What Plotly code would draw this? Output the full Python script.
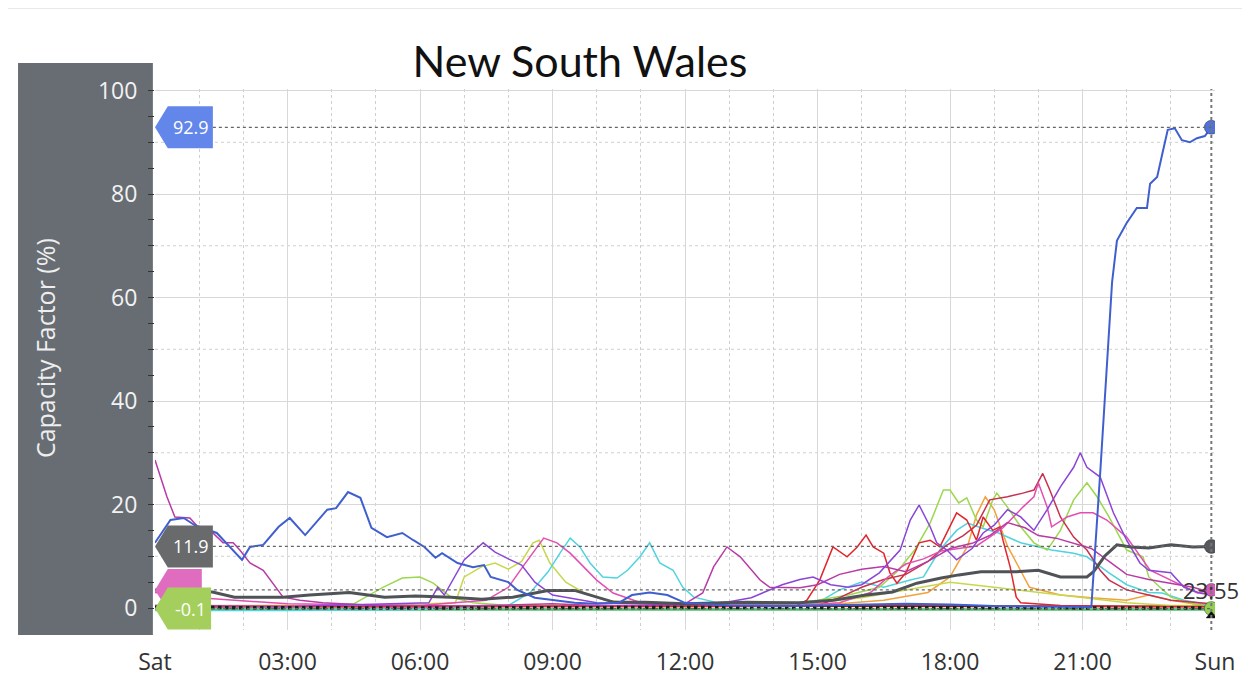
import plotly.graph_objects as go

# === Axis labels ===
tick_hours = [0, 3, 6, 9, 12, 15, 18, 21, 24]
tick_text = ["Sat", "03:00", "06:00", "09:00", "12:00", "15:00", "18:00", "21:00", "Sun"]
cursor_label = "23:55"

# === Series: hours since Sat 00:00 / capacity factor (%) ===
blue_t = [0, 0.35, 0.65, 0.9, 1.4, 1.7, 1.97, 2.15, 2.45, 2.8, 3.05, 3.4, 3.9, 4.1, 4.37, 4.65, 4.9,
          5.25, 5.6, 5.85, 6.1, 6.35, 6.5, 6.85, 7.2, 7.45, 7.6, 8.0, 8.2, 8.6, 9.0, 9.5, 10.0, 10.5,
          10.8, 11.2, 11.6, 12.0, 13.0, 14.0, 15.0, 16.0, 17.0, 18.0, 19.0, 20.0, 21.0, 21.2, 21.4,
          21.67, 21.78, 22.0, 22.23, 22.46, 22.53, 22.69, 22.8, 22.93, 23.09, 23.25, 23.43, 23.59,
          23.77, 23.917]
blue_v = [12.6, 17.0, 17.4, 16.0, 14.5, 11.8, 9.3, 11.8, 12.2, 15.7, 17.4, 14.1, 19.0, 19.3, 22.4,
          21.3, 15.5, 13.7, 14.5, 13.1, 11.8, 9.7, 10.6, 8.7, 7.9, 8.3, 6.0, 5.0, 3.5, 2.0, 1.5, 1.0,
          0.8, 1.0, 2.5, 3.0, 2.5, 1.0, 0.5, 0.4, 0.5, 0.6, 0.8, 0.7, 0.4, 0.3, 0.3, 0.2, 26.0, 63.0,
          71.0, 74.4, 77.3, 77.3, 82.0, 83.3, 87.5, 92.4, 92.7, 90.4, 90.0, 90.8, 91.2, 92.9]

grey_t = [0, 0.5, 1.3, 1.8, 2.9, 3.5, 4.4, 5.2, 5.9, 6.7, 7.4, 8.1, 8.9, 9.5, 10.0, 10.4, 11.1, 12.0,
          13.4, 14.6, 15.35, 16.1, 16.7, 17.25, 17.8, 18.2, 18.7, 19.5, 20.0, 20.5, 21.1, 21.25, 21.5,
          21.78, 22.1, 22.5, 23.0, 23.5, 23.917]
grey_v = [3.5, 3.3, 3.1, 2.1, 2.1, 2.5, 3.0, 2.1, 2.3, 2.1, 1.7, 2.1, 3.4, 3.4, 2.1, 1.1, 1.1, 0.8,
          1.1, 1.0, 1.5, 2.5, 3.1, 4.8, 5.8, 6.4, 7.0, 7.0, 7.3, 6.0, 6.0, 7.0, 10.0, 12.2, 11.8, 11.6,
          12.2, 11.8, 11.9]

magenta_t = [0, 0.27, 0.45, 0.79, 0.97, 1.31, 1.54, 1.77, 1.92, 2.15, 2.45, 2.67, 2.9, 3.28, 3.8, 5,
             7, 8, 9, 10, 11, 12, 12.4, 12.65, 12.95, 13.25, 13.47, 13.7, 13.92, 14.2, 14.6, 15.0,
             15.5, 16.0, 16.5, 17.0, 17.5, 18.0, 18.5, 18.9, 19.3, 19.7, 20.0, 20.4, 20.8, 21.2, 21.6,
             22.0, 22.5, 23.0, 23.5, 23.917]
magenta_v = [28.6, 21.5, 17.6, 17.4, 15.7, 14.5, 12.6, 12.6, 11.2, 8.7, 7.3, 4.8, 2.1, 1.5, 1.0, 0.5,
             0.4, 0.6, 0.8, 0.5, 0.5, 0.8, 2.9, 8.0, 11.8, 9.9, 7.7, 5.4, 4.0, 4.0, 3.9, 4.5, 6.5,
             7.5, 8.0, 7.0, 9.0, 11.5, 12.5, 14.0, 16.5, 15.5, 14.0, 13.5, 12.5, 11.5, 9.0, 6.5, 5.5,
             4.8, 4.0, 3.0]

purple_t = [0, 3, 6.2, 6.4, 6.55, 7.0, 7.43, 7.7, 8.0, 8.3, 8.6, 9.0, 10, 11, 12, 13, 13.5, 14.2,
            14.6, 14.9, 15.3, 15.7, 16.0, 16.4, 16.87, 17.1, 17.3, 17.55, 17.7, 17.93, 18.15, 18.5,
            18.75, 19.0, 19.3, 19.6, 19.9, 20.2, 20.5, 20.8, 20.95, 21.1, 21.4, 21.7, 22.0, 22.3,
            22.5, 23.0, 23.3, 23.65, 23.917]
purple_v = [0.5, 0.3, 1.0, 4.0, 2.5, 9.3, 12.6, 10.8, 9.5, 8.3, 5.0, 2.5, 1.0, 0.8, 0.6, 1.2, 2.0,
            4.5, 5.5, 6.0, 4.5, 4.0, 4.5, 6.8, 11.2, 17.0, 19.9, 15.7, 12.6, 11.2, 9.3, 11.5, 14.5,
            16.0, 19.0, 17.6, 15.0, 19.0, 23.4, 27.2, 30.0, 27.2, 25.3, 18.4, 13.1, 8.7, 7.3, 6.8,
            4.0, 2.9, 2.5]

pink_t = [0, 1, 3, 6, 7.5, 8.0, 8.33, 8.65, 8.8, 9.1, 9.4, 9.7, 10.0, 10.37, 11, 13, 14.5, 15.5,
          16.2, 16.6, 17.0, 17.4, 17.8, 18.2, 18.6, 18.9, 19.2, 19.65, 19.9, 20.0, 20.2, 20.3, 20.65,
          20.95, 21.24, 21.55, 22.0, 22.53, 23.0, 23.6, 23.917]
pink_v = [3.0, 2.0, 0.8, 0.5, 1.5, 4.0, 8.0, 11.8, 13.5, 12.6, 10.6, 8.0, 5.4, 2.9, 1.0, 0.6, 0.5,
          1.0, 3.0, 6.0, 8.5, 9.5, 11.0, 11.5, 12.0, 13.7, 15.5, 19.5, 21.5, 24.2, 19.5, 15.7, 17.6,
          18.4, 18.4, 17.0, 13.7, 7.3, 5.4, 2.9, 3.5]

lime_t = [0, 3, 4.5, 5.16, 5.6, 6.0, 6.3, 6.7, 7.2, 8, 10, 12, 14, 15, 15.7, 16.4, 16.8, 17.2, 17.55,
          17.85, 18.0, 18.2, 18.38, 18.6, 18.75, 18.97, 19.06, 19.3, 19.6, 19.9, 20.2, 20.5, 20.8,
          21.1, 21.33, 21.6, 22.0, 22.37, 22.5, 23.0, 23.5, 23.917]
lime_v = [0.3, 0.2, 0.8, 4.0, 5.8, 6.0, 4.8, 2.1, 1.0, 0.5, 0.3, 0.3, 0.5, 1.5, 2.5, 4.0, 7.0, 11.2,
          16.4, 22.8, 22.8, 20.3, 21.3, 17.0, 15.7, 20.9, 22.2, 19.5, 15.7, 12.6, 11.2, 15.0, 20.9,
          24.2, 21.5, 17.6, 11.2, 9.9, 6.0, 2.1, 0.8, -0.1]

ygreen_t = [0, 4, 6.8, 7.0, 7.4, 7.7, 8.0, 8.3, 8.56, 8.7, 8.94, 9.3, 9.7, 10.2, 11, 13, 15, 16, 17,
            18, 19, 20, 21, 22, 23, 23.917]
ygreen_v = [0.2, 0.2, 1.0, 6.0, 8.0, 8.7, 7.5, 9.0, 12.6, 13.1, 8.7, 5.0, 3.0, 1.5, 0.8, 0.5, 1.0,
            2.0, 3.5, 5.0, 4.0, 3.0, 2.0, 1.0, 0.5, 0.5]

cyan_t = [0, 3, 6, 8.0, 8.5, 8.9, 9.17, 9.4, 9.62, 9.85, 10.14, 10.46, 10.7, 10.98, 11.2, 11.43,
          11.73, 11.95, 12.2, 13, 15, 15.5, 16.0, 16.5, 17.1, 17.4, 17.77, 18.15, 18.4, 18.7, 19.1,
          19.6, 20.3, 20.8, 21.1, 21.6, 22.0, 22.5, 22.8, 23.3, 23.917]
cyan_v = [-0.5, -0.5, -0.3, 0.5, 3.0, 7.0, 10.6, 13.5, 11.8, 8.7, 6.0, 5.8, 7.3, 9.9, 12.6, 8.7, 7.3,
          4.0, 2.1, 0.5, 1.0, 3.5, 5.0, 4.0, 5.4, 6.0, 11.2, 15.0, 16.4, 15.5, 14.5, 12.6, 11.2,
          10.6, 9.9, 6.8, 4.5, 3.0, 2.9, 1.5, 0.5]

red_t = [0, 14.5, 14.76, 15.05, 15.35, 15.67, 15.9, 16.1, 16.26, 16.5, 16.64, 16.8, 17.0, 17.3,
         17.55, 17.77, 18.15, 18.38, 18.6, 18.75, 18.97, 19.13, 19.2, 19.36, 19.5, 19.6, 20.5, 22,
         23.917]
red_v = [0.3, 0.3, 1.5, 5.4, 11.8, 9.9, 11.8, 14.1, 11.8, 10.6, 6.8, 4.8, 6.8, 12.6, 13.1, 11.8,
         18.4, 17.0, 13.1, 17.6, 15.0, 15.7, 13.1, 8.0, 2.1, 1.0, 0.5, 0.3, 0.3]

crimson_t = [0, 15.0, 15.5, 16.0, 16.5, 17.0, 17.5, 17.9, 18.3, 18.6, 18.9, 19.3, 19.65, 19.9, 20.1,
             20.26, 20.5, 20.8, 21.1, 21.4, 21.6, 22.0, 22.5, 23.0, 23.917]
crimson_v = [0.2, 0.5, 2.0, 4.0, 5.5, 6.5, 9.0, 12.0, 14.0, 16.0, 20.9, 21.5, 22.2, 22.8, 26.0, 22.8,
             17.6, 13.7, 11.2, 7.3, 5.4, 3.5, 2.5, 1.5, 0.8]

orange_t = [0, 6, 12, 15, 16.5, 17.5, 18.0, 18.4, 18.6, 18.8, 19.0, 19.3, 19.8, 20.5, 21.2, 22.0,
            22.5, 23.0, 23.5, 23.917]
orange_v = [0.5, 0.5, 0.3, 0.5, 1.5, 3.0, 6.0, 12.0, 18.0, 21.5, 19.0, 12.0, 4.0, 2.5, 2.0, 1.5,
            2.5, 1.5, 0.8, 0.5]

zero_t = [0, 6, 12, 18, 23.917]
zero_v = [0.1, 0.0, 0.1, 0.0, 0.0]
zgreen_v = [-0.3, -0.3, -0.2, -0.3, -0.3]
zred_v = [0.4, 0.3, 0.4, 0.3, 0.3]

# name, times, values, colour, width
series = [
    ("zero_green", zero_t, zgreen_v, "#4cc068", 2.5),
    ("zero_red", zero_t, zred_v, "#8b1a1a", 2),
    ("orange", orange_t, orange_v, "#f2a23a", 1.5),
    ("ygreen", ygreen_t, ygreen_v, "#c6d84a", 1.5),
    ("cyan", cyan_t, cyan_v, "#4fd3df", 1.5),
    ("lime", lime_t, lime_v, "#9bd84e", 1.5),
    ("red", red_t, red_v, "#e3242b", 1.5),
    ("crimson", crimson_t, crimson_v, "#c8304f", 1.5),
    ("pink", pink_t, pink_v, "#e24fb0", 1.5),
    ("magenta", magenta_t, magenta_v, "#b83aa5", 1.5),
    ("purple", purple_t, purple_v, "#8b45d6", 1.5),
    ("zero_black", zero_t, zero_v, "#1e1e1e", 3.5),
    ("grey", grey_t, grey_v, "#4f5357", 3),
    ("blue", blue_t, blue_v, "#3f5fcf", 2),
]

fig = go.Figure()
for name, t, v, color, width in series:
    dash = "dot" if name == "zero_black" else "solid"
    fig.add_trace(go.Scatter(x=t, y=v, mode="lines", name=name,
                             line=dict(color=color, width=width, dash=dash), hoverinfo="skip"))

# === End markers at the cursor time ===
cursor_t = blue_t[-1]
end_pts = [
    (blue_v[-1], "#4d72dc", "circle", 14),
    (grey_v[-1], "#55595d", "circle", 14),
    (pink_v[-1], "#d957b9", "circle", 13),
    (lime_v[-1], "#93cf52", "circle", 14),
    (lime_v[-1] - 1.4, "#111111", "triangle-up", 9),
]
for val, color, sym, size in end_pts:
    fig.add_trace(go.Scatter(x=[cursor_t], y=[val], mode="markers", hoverinfo="skip",
                             marker=dict(color=color, symbol=sym, size=size,
                                         line=dict(color="rgba(0,0,0,0.35)", width=1))))

# === Shapes: side band, dotted minor grid, cursor lines, value tags ===
shapes = [
    dict(type="rect", xref="paper", yref="paper", x0=-0.1292, x1=-0.002, y0=-0.0092, y1=1.048,
         fillcolor="#676d73", line=dict(width=0), layer="below"),
    dict(type="line", xref="paper", yref="paper", x0=-0.1396, x1=-0.1396, y0=-0.2, y1=1.1497,
         line=dict(color="#e2e2e2", width=1.5)),
    dict(type="line", xref="paper", yref="paper", x0=-0.1396, x1=1.05, y0=1.1497, y1=1.1497,
         line=dict(color="#e2e2e2", width=1.5)),
    dict(type="line", xref="x", yref="paper", x0=cursor_t, x1=cursor_t, y0=0, y1=1,
         line=dict(color="#777777", width=2, dash="dot")),
]
for g in range(10, 100, 20):
    shapes.append(dict(type="line", xref="paper", yref="y", x0=0, x1=1, y0=g, y1=g, layer="below",
                       line=dict(color="#cfcfcf", width=1, dash="dot")))

# tags: value, colour, body width (h), text (pink one sits under the green tag)
tags = [
    (blue_v[-1], "#6386ea", 1.31, f"{blue_v[-1]:.1f}"),
    (grey_v[-1], "#686a6c", 1.31, f"{grey_v[-1]:.1f}"),
    (pink_v[-1], "#e06cc0", 1.06, ""),
    (lime_v[-1], "#a5cf5c", 1.27, f"{lime_v[-1]:.1f}"),
]
tip = 0.29
half = 4.05
annotations = []
for val, color, w, label in tags:
    shapes.append(dict(type="line", xref="x", yref="y", x0=w, x1=cursor_t, y0=val, y1=val,
                       line=dict(color="#666666", width=1.2, dash="dot")))
for val, color, w, label in tags:
    path = (f"M 0,{val} L {tip},{val + half} L {w},{val + half} "
            f"L {w},{val - half} L {tip},{val - half} Z")
    shapes.append(dict(type="path", xref="x", yref="y", path=path, fillcolor=color,
                       line=dict(width=0)))
    if label:
        annotations.append(dict(x=(tip + w) / 2 + 0.02, y=val, xref="x", yref="y", text=label,
                                showarrow=False,
                                font=dict(color="white", size=18, family="Open Sans")))

annotations.append(dict(x=cursor_t, y=pink_v[-1], xref="x", yref="y", text=cursor_label,
                        showarrow=False, xanchor="center",
                        font=dict(color="#333333", size=22, family="Open Sans")))
annotations.append(dict(x=-0.1038, y=0.521, xref="paper", yref="paper", text="Capacity Factor (%)",
                        textangle=-90, showarrow=False, xanchor="center", yanchor="middle",
                        font=dict(color="#eeeeee", size=25, family="Open Sans")))

# === Layout (page body adds an 8px margin, so the figure is 16px smaller) ===
fig.update_layout(
    width=1234, height=668,
    margin=dict(l=147, r=27, t=81, b=46),
    paper_bgcolor="white", plot_bgcolor="white",
    showlegend=False,
    title=dict(text="New South Wales", x=0.4635, xanchor="center", y=0.919, yanchor="middle",
               font=dict(family="Lato", size=43, color="#111111")),
    xaxis=dict(range=[0, 24], tickmode="array", tickvals=tick_hours, ticktext=tick_text,
               showgrid=True, gridcolor="#d8d8d8", gridwidth=1, zeroline=False, showline=False,
               ticks="", ticklabelstandoff=16, automargin=False,
               tickfont=dict(family="Open Sans", size=23, color="#333333"),
               minor=dict(tick0=0, dtick=1, showgrid=True, griddash="dot", gridcolor="#cfcfcf")),
    yaxis=dict(range=[-4.25, 100.3], tick0=0, dtick=20, showgrid=True, gridcolor="#d8d8d8",
               zeroline=False, showline=False, ticks="outside", ticklen=6, tickcolor="#333333",
               ticklabelstandoff=6, automargin=False,
               tickfont=dict(family="Open Sans", size=23, color="#f2f2f2"),
               minor=dict(tick0=0, dtick=5, ticks="outside", ticklen=6, tickcolor="#333333",
                          showgrid=False)),
    shapes=shapes,
    annotations=annotations,
)

fig.write_html("out.html")
